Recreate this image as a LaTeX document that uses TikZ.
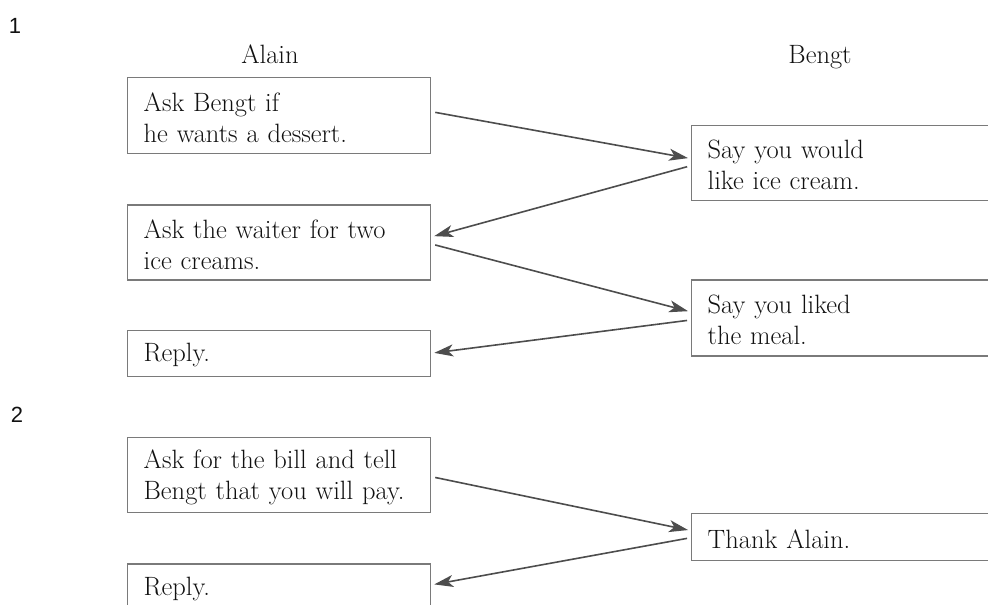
\documentclass[tikz,border=0pt]{standalone}
\usepackage{fontspec}
\newfontfamily\numfont{Liberation Sans}
\usepackage{tikz}
\usetikzlibrary{positioning,arrows.meta}

\definecolor{boxgray}{HTML}{7A7A7A}
\definecolor{arrowgray}{HTML}{4D4D4D}
\definecolor{inkgray}{HTML}{111111}

\begin{document}
\begin{tikzpicture}[
  x=1pt, y=-1pt,
  font=\fontsize{26.5}{31}\selectfont,
  node distance=50pt,
  turnbox/.style={draw=boxgray, line width=1.3pt, anchor=north west, align=left, text=inkgray,
    inner xsep=16pt, inner ysep=0pt, text height=22.5pt},
  leftturn/.style={turnbox, text width=271pt},
  rightturn/.style={turnbox, text width=290pt},
  speaker/.style={anchor=base, text=inkgray},
  partno/.style={anchor=base, font=\fontsize{22}{26}\numfont, text=inkgray},
  arrow/.style={-{Stealth[length=19pt, width=12pt, inset=5pt]}, draw=arrowgray, line width=1.6pt,
    shorten <=4pt, shorten >=3pt}
]
\clip (0,0) rectangle (988,605);

% part 1
\node[partno] (one) at (15,33) {1};
\node[speaker] (alain) at (270,63) {Alain};
\node[speaker] (bengt) at (820,63) {Bengt};

\node[leftturn, minimum height=76pt] (a1) at (127,77) {Ask Bengt if\\he wants a dessert.};
\node[leftturn, minimum height=75pt, below=50pt of a1] (a2) {Ask the waiter for two\\ice creams.};
\node[leftturn, minimum height=46pt, below=49pt of a2] (a3) {Reply.};

\node[rightturn, minimum height=75pt] (b1) at (691,125) {Say you would\\like ice cream.};
\node[rightturn, minimum height=76pt, below=78pt of b1] (b2) {Say you liked\\the meal.};

\draw[arrow] ([yshift=4pt]a1.east) -- ([yshift=4.5pt]b1.west);
\draw[arrow] ([yshift=-2.5pt]b1.west) -- ([yshift=5.5pt]a2.east);
\draw[arrow] ([yshift=-1.5pt]a2.east) -- ([yshift=6pt]b2.west);
\draw[arrow] ([yshift=-2pt]b2.west) -- (a3.east);

% part 2
\node[partno] (two) at (17,422) {2};

\node[leftturn, minimum height=75pt] (a4) at (127,437) {Ask for the bill and tell\\Bengt that you will pay.};
\node[leftturn, minimum height=46pt, below=50pt of a4] (a5) {Reply.};

\node[rightturn, minimum height=47pt] (b3) at (691,513) {Thank Alain.};

\draw[arrow] ([yshift=-1.5pt]a4.east) -- ([yshift=6.5pt]b3.west);
\draw[arrow] ([yshift=-0.5pt]b3.west) -- ([yshift=2pt]a5.east);
\end{tikzpicture}
\end{document}
